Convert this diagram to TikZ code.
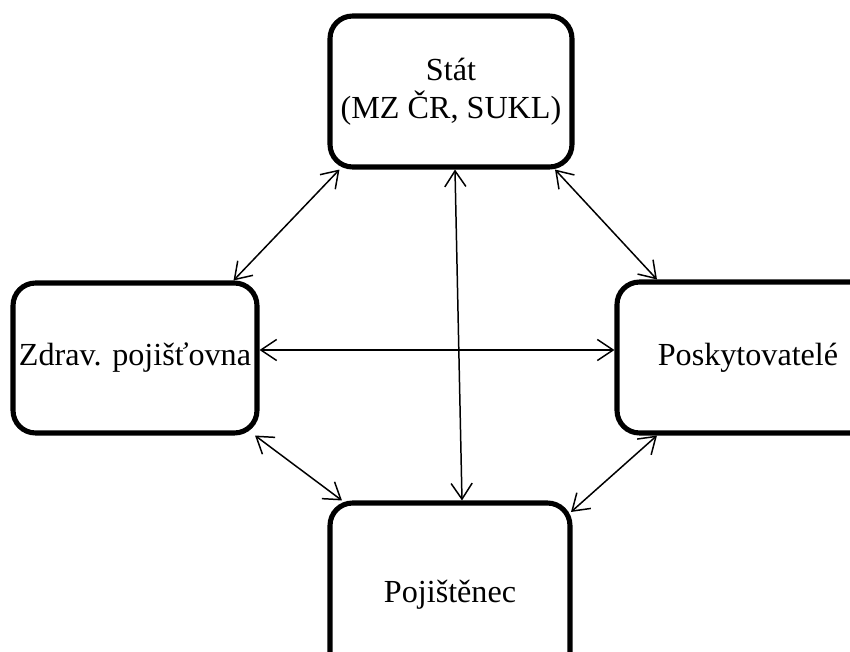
\documentclass[tikz,border=0pt]{standalone}
\usepackage{fontspec}
\setmainfont{Liberation Serif}
\usetikzlibrary{arrows.meta}
\usetikzlibrary{calc}

\begin{document}
\begin{tikzpicture}[x=0.02cm,y=-0.02cm,
        box/.style={draw,line width=2.9pt,rounded corners=0.45cm,align=center,
            inner sep=0pt,minimum width=4.84cm,minimum height=3.02cm,
            font=\fontsize{18.3}{21.5}\selectfont},
        link/.style={line width=0.85pt,
            {Straight Barb[length=9pt,width=12pt]}-{Straight Barb[length=9pt,width=12pt]}}]
    \useasboundingbox (0,0) rectangle (850,652);
    \clip (0,0) rectangle (850,652); % the page cuts the right and bottom boxes

    % the four parties
    \node[box] (stat) at (451,91.5) {Stát\\(MZ ČR, SUKL)};
    \node[box,minimum width=4.88cm,minimum height=3cm] (pojistovna) at (135,358) {Zdrav. pojišťovna};
    \node[box,minimum width=5.24cm] (poskyt) at (748,357.5) {Poskytovatelé};
    \node[box,minimum width=4.8cm,minimum height=3.68cm] (pojistenec) at (450,595) {Pojištěnec};

    % relations
    \draw[link] ($(stat.south west)+(12,0)$) -- ($(pojistovna.north east)+(-26,0)$);
    \draw[link] ($(stat.south)+(4,0)$) -- ($(pojistenec.north)+(12,0)$);
    \draw[link] ($(stat.south east)+(-19.5,0)$) -- ($(poskyt.north west)+(42.5,0)$);
    \draw[link] ($(pojistovna.east)+(0,-8)$) -- ($(poskyt.west)+(0,-7.5)$);
    \draw[link] ($(pojistovna.south east)+(-4.5,0)$) -- ($(pojistenec.north west)+(14.5,0)$);
    \draw[link] ($(poskyt.south west)+(42.5,0)$) -- ($(pojistenec.north east)+(-1.5,11.5)$);
\end{tikzpicture}
\end{document}
